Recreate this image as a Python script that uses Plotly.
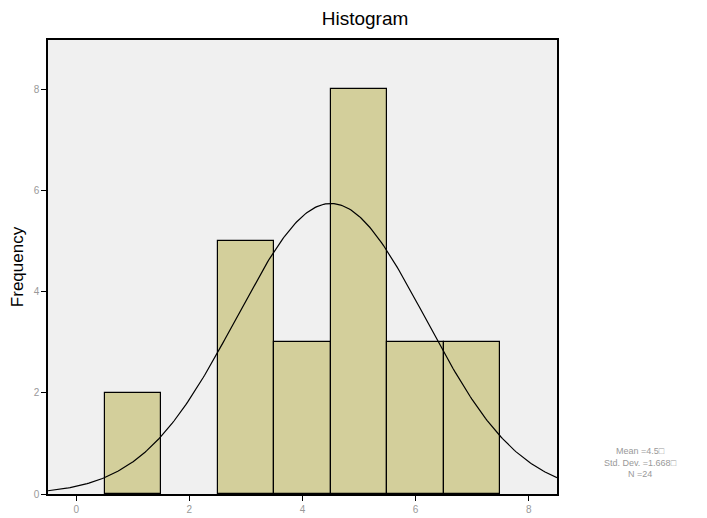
import numpy as np
import plotly.graph_objects as go

bin_centers = [1, 3, 4, 5, 6, 7]
frequencies = [2, 5, 3, 8, 3, 3]
x_ticks = [0, 2, 4, 6, 8]
y_ticks = [0, 2, 4, 6, 8]

vals = np.repeat(bin_centers, frequencies)
n = len(vals)
mean = vals.mean()
std = vals.std(ddof=1)

xc = np.linspace(-0.5, 8.5, 300)
yc = n * 1.0 * np.exp(-0.5 * ((xc - mean) / std) ** 2) / (std * np.sqrt(2 * np.pi))

# page body has an 8px default margin, so the figure is sized/offset to compensate
W, H = 699, 510
fig = go.Figure()
fig.add_trace(go.Bar(x=bin_centers, y=frequencies, width=1.0,
                     marker=dict(color="#d3cf9b", line=dict(color="black", width=1.2)),
                     hoverinfo="skip"))
fig.add_trace(go.Scatter(x=xc, y=yc, mode="lines", line=dict(color="black", width=1.2),
                         hoverinfo="skip"))

fig.update_layout(
    width=W, height=H,
    margin=dict(l=40, r=150, t=32, b=24, autoexpand=False),
    paper_bgcolor="white", plot_bgcolor="#f0f0f0",
    showlegend=False, bargap=0,
    font=dict(family="Liberation Sans", color="#999999", size=10),
    title=dict(text="Histogram", x=(365-8)/W, xanchor="center", y=1-(18-8)/H, yanchor="middle",
               font=dict(family="Liberation Sans", size=19, color="black")),
    xaxis=dict(range=[-0.5, 8.5], tickvals=x_ticks, ticks="outside", ticklen=5,
               tickcolor="black", showline=True, linecolor="black", linewidth=1.5,
               mirror=True, showgrid=False, zeroline=False, automargin=False),
    yaxis=dict(range=[0, 8.97], tickvals=y_ticks, ticks="outside", ticklen=5,
               tickcolor="black", showline=True, linecolor="black", linewidth=1.5,
               mirror=True, showgrid=False, zeroline=False, automargin=False,
               title=dict(text="Frequency", font=dict(size=17, color="black"), standoff=6)),
    annotations=[dict(xref="paper", yref="paper", x=(640-48)/509, y=(494-462)/454,
                      text="Mean =%.1f□<br>Std. Dev. =%.3f□<br>N =%d" % (mean, std, n),
                      showarrow=False, align="center", xanchor="center", yanchor="middle",
                      font=dict(size=9, color="#999999"))],
)
fig.write_html("out.html")
